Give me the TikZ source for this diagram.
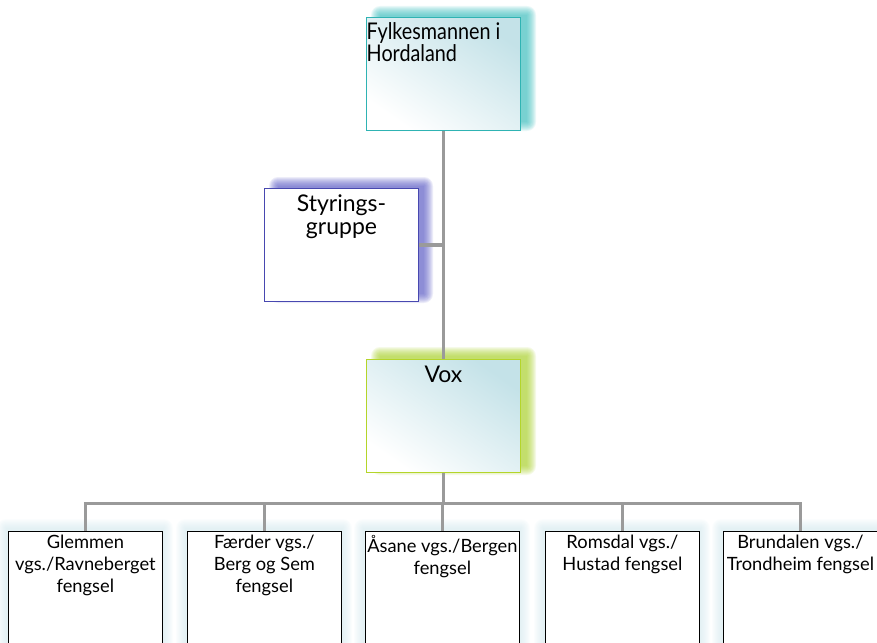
\documentclass[tikz,border=0pt]{standalone}
\usepackage{fontspec}
\setmainfont{Lato}
\newfontfamily\narrowlato[FakeStretch=0.86]{Lato}
\usetikzlibrary{calc}
\definecolor{tealc}{HTML}{2FB3B3}
\definecolor{tealsh}{HTML}{3CBDBD}
\definecolor{bluec}{HTML}{4848B0}
\definecolor{bluesh}{HTML}{5A5AC4}
\definecolor{greenc}{HTML}{B4D52A}
\definecolor{greensh}{HTML}{A8CF2A}
\definecolor{glowc}{HTML}{CFE6EC}
\definecolor{fillc}{HTML}{C4E2E8}
\definecolor{connc}{HTML}{9A9A9A}
\newcommand\myglow[4]{%
  \foreach \k in {0,1,...,9}{%
    \fill[#1, opacity=#4, rounded corners=\k pt] ($(#2)+(-\k,-\k)$) rectangle ($(#3)+(\k,\k)$);
  }%
}
\begin{document}
\begin{tikzpicture}[x=1pt,y=-1pt,
  box/.style={draw, line width=1pt, minimum width=154pt, minimum height=113pt, inner sep=0pt, anchor=north west},
  gbox/.style={box, shading=axis, top color=fillc, bottom color=white, shading angle=-35},
  lowbox/.style={draw=black, fill=white, line width=0.8pt, minimum width=154pt, minimum height=130pt, inner sep=0pt, anchor=north west},
  lbl/.style={inner sep=0pt, font=\fontsize{18.3}{21.7}\selectfont, align=center, anchor=north},
  biglbl/.style={inner sep=0pt, font=\fontsize{23}{23}\selectfont, align=center, anchor=north},
  conn/.style={draw=connc, line width=3.5pt},
  conn2/.style={draw=connc, line width=3pt}]
\useasboundingbox (0,0) rectangle (877,642);
% shadows / glows
\myglow{tealsh}{380,15}{527,122}{0.11}
\myglow{bluesh}{278,186}{424,294}{0.11}
\myglow{greensh}{380,356}{527,466}{0.11}
\foreach \xx in {8,187,365,545,723}{
  \myglow{glowc}{\xx-2,528}{\xx+156,660}{0.08}
}
% boxes and connectors
\node[gbox, draw=tealc] (f) at (366,17) {};
\node[box, draw=bluec, fill=white] (s) at (264,188) {};
\node[gbox, draw=greenc] (v) at (366,359) {};
\coordinate (bus) at (443,503);
\draw[conn] (f.south) -- (v.north);
\draw[conn] (s.east) -- (s.east -| f.south);
\draw[conn] (v.south) -- (v.south |- bus);
\node[lowbox] (b1) at (8,531) {};
\node[lowbox] (b2) at (187,531) {};
\node[lowbox] (b3) at (365,531) {};
\node[lowbox] (b4) at (545,531) {};
\node[lowbox] (b5) at (723,531) {};
\draw[conn2] ([xshift=-1.5pt]b1.north |- bus) -- ([xshift=1.5pt]b5.north |- bus);
\foreach \b in {b1,b2,b3,b4,b5}{
  \draw[conn2] (\b.north |- bus) -- (\b.north);
}
% redraw boxes above connectors
\node[gbox, draw=tealc] (f2) at (366,17) {};
\node[box, draw=bluec, fill=white] (s2) at (264,188) {};
\node[gbox, draw=greenc] (v2) at (366,359) {};
\node[lowbox] (c1) at (8,531) {};
\node[lowbox] (c2) at (187,531) {};
\node[lowbox] (c3) at (365,531) {};
\node[lowbox] (c4) at (545,531) {};
\node[lowbox] (c5) at (723,531) {};
% labels
\node[biglbl, anchor=north west, align=left, font=\narrowlato\fontsize{23}{22}\selectfont] (tf) at ([xshift=0.5pt,yshift=-5pt]f2.north west) {Fylkesmannen i\\Hordaland};
\node[biglbl] (ts) at ([yshift=-7pt]s2.north) {Styrings-\\gruppe};
\node[biglbl] (tv) at ([yshift=-7pt]v2.north) {Vox};
\node[lbl] (t1) at ([yshift=-4pt]c1.north) {Glemmen\\vgs./Ravneberget\\fengsel};
\node[lbl] (t2) at ([yshift=-4pt]c2.north) {Færder vgs./\\Berg og Sem\\fengsel};
\node[lbl] (t3) at ([yshift=-4pt]c3.north) {Åsane vgs./Bergen\\fengsel};
\node[lbl] (t4) at ([yshift=-4pt]c4.north) {Romsdal vgs./\\Hustad fengsel};
\node[lbl] (t5) at ([yshift=-4pt]c5.north) {Brundalen vgs./\\Trondheim fengsel};
\end{tikzpicture}
\end{document}
